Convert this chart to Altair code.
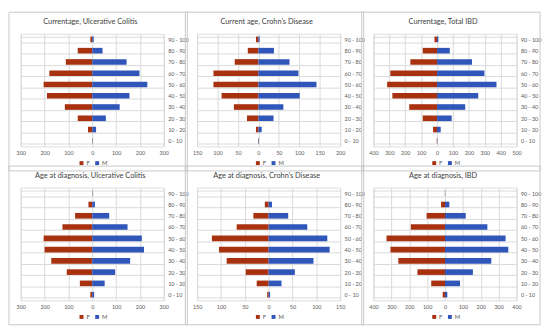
import altair as alt
import pandas as pd

ages = ["0 - 10", "10 - 20", "20 - 30", "30 - 40", "40 - 50",
        "50 - 60", "60 - 70", "70 - 80", "80 - 90", "90 - 100"]

# values listed from 0-10 up to 90-100
uc_cur_f = [1, 18, 61, 115, 190, 204, 180, 111, 61, 8]
uc_cur_m = [1, 16, 57, 115, 156, 231, 198, 144, 43, 6]
cd_cur_f = [1, 6, 28, 60, 90, 110, 110, 58, 26, 6]
cd_cur_m = [1, 8, 37, 61, 101, 142, 98, 76, 38, 3]
ibd_cur_f = [2, 25, 90, 175, 281, 314, 294, 168, 90, 16]
ibd_cur_m = [2, 23, 92, 177, 259, 374, 298, 220, 80, 8]
uc_dx_f = [8, 52, 107, 172, 200, 204, 125, 72, 16, 1]
uc_dx_m = [8, 52, 96, 159, 217, 208, 148, 71, 11, 1]
cd_dx_f = [3, 25, 48, 88, 104, 119, 67, 32, 8, 0]
cd_dx_m = [3, 27, 55, 94, 128, 123, 81, 41, 7, 0]
ibd_dx_f = [13, 77, 154, 261, 305, 327, 191, 103, 22, 1]
ibd_dx_m = [13, 84, 156, 259, 354, 339, 237, 116, 24, 1]

titles = ["Currentage, Ulcerative Colitis", "Current age, Crohn's Disease",
          "Currentage, Total IBD", "Age  at diagnosis, Ulcerative Colitis",
          "Age  at diagnosis, Crohn's Disease", "Age at diagnosis, IBD"]
domains = [(-300, 300, 100), (-150, 200, 50), (-400, 500, 100),
           (-300, 300, 100), (-150, 150, 50), (-400, 400, 100)]
series = [(uc_cur_f, uc_cur_m), (cd_cur_f, cd_cur_m), (ibd_cur_f, ibd_cur_m),
          (uc_dx_f, uc_dx_m), (cd_dx_f, cd_dx_m), (ibd_dx_f, ibd_dx_m)]

F_COLOR = "#A8320F"
M_COLOR = "#2F56B8"
FONT = "Lato"
W, H = 146, 115


def panel(title, dom, fm):
    lo, hi, step = dom
    f, m = fm
    rows = []
    for a, fv, mv in zip(ages, f, m):
        rows.append({"age": a, "sex": "F", "value": -fv})
        rows.append({"age": a, "sex": "M", "value": mv})
    df = pd.DataFrame(rows)
    ticks = list(range(lo, hi + 1, step))
    bars = alt.Chart(df).mark_bar().encode(
        x=alt.X("value:Q", scale=alt.Scale(domain=[lo, hi], nice=False),
                axis=alt.Axis(values=ticks, labelExpr="abs(datum.value)", title=None,
                              labelFontSize=5.5, labelColor="#595959", domain=False,
                              ticks=False, grid=True, gridColor="#D9D9D9",
                              labelPadding=4, labelFont=FONT, labelFlush=False,
                              labelOverlap=False)),
        y=alt.Y("age:N", sort=ages[::-1],
                scale=alt.Scale(paddingInner=0.5, paddingOuter=0.25),
                axis=alt.Axis(orient="right", title=None, labelFontSize=5.5,
                              labelColor="#595959", domain=False, ticks=False,
                              grid=True, gridColor="#D9D9D9", tickBand="extent",
                              labelPadding=4, labelFont=FONT)),
        color=alt.Color("sex:N", scale=alt.Scale(domain=["F", "M"], range=[F_COLOR, M_COLOR]),
                        legend=alt.Legend(orient="none", legendX=W / 2 - 14, legendY=H + 14,
                                          title=None, direction="horizontal",
                                          symbolType="square", symbolSize=16, labelFontSize=6,
                                          labelColor="#595959", labelFont=FONT,
                                          columnPadding=4, symbolStrokeWidth=0,
                                          padding=0, labelOffset=2)),
        order=alt.Order("sex:N"),
    )
    one = alt.Chart(pd.DataFrame({"a": [0]}))
    frame = one.mark_rect(fill=None, stroke="#C8C8C8", strokeWidth=1).encode(
        x=alt.value(-12), x2=alt.value(W + 24), y=alt.value(-22), y2=alt.value(H + 25))
    ttl = one.mark_text(text=title, fontSize=7.5, font=FONT, color="#404040").encode(
        x=alt.value(W / 2 - 2), y=alt.value(-12))
    return alt.layer(frame, ttl, bars).properties(width=W, height=H)


charts = [panel(t, d, s) for t, d, s in zip(titles, domains, series)]
chart = alt.vconcat(
    alt.hconcat(*charts[:3], spacing=-5).resolve_legend(color="independent"),
    alt.hconcat(*charts[3:], spacing=-5).resolve_legend(color="independent"),
    spacing=-7,
).resolve_legend(color="independent").properties(padding=0).configure_view(
    stroke=None).configure(background="white")

chart.save("out.html", embed_options={"renderer": "svg", "actions": False})
